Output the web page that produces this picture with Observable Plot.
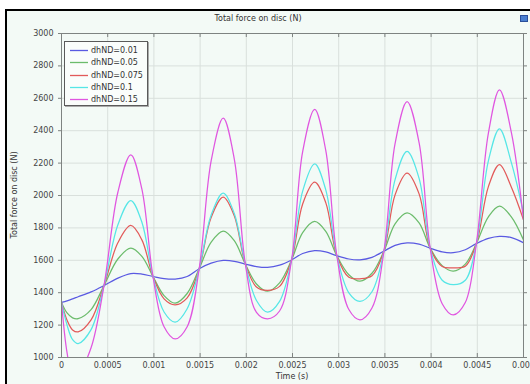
<!DOCTYPE html>
<html>
<head>
<meta charset="utf-8">
<script src="https://cdn.jsdelivr.net/npm/d3@7"></script>
<script src="https://cdn.jsdelivr.net/npm/@observablehq/plot@0.6"></script>
<style>
  html, body { margin: 0; padding: 0; background: #ffffff; overflow: hidden; }
  #wrap { position: relative; width: 530px; height: 384px; font-family: "DejaVu Sans", sans-serif; font-size: 8px; color: #333; }
  #panel { position: absolute; left: 5px; top: 9px; width: 530px; height: 380px; border-left: 2px solid #000; border-top: 2px solid #000; background: #f3faf6; }
  #chart { position: absolute; left: 0; top: 0; }
  .txt { position: absolute; white-space: nowrap; }
  #legend { position: absolute; left: 64px; top: 41px; width: 82px; height: 63px; border: 1px solid #5a5a5a; background: #fafdfb; box-shadow: 1px 1px 0 #aaa; }
  #icon { position: absolute; left: 520px; top: 15px; width: 6px; height: 5px; background: #4a7fd0; border: 1px solid #2a4f9a; }
</style>
</head>
<body>
<div id="wrap">
  <div id="panel"></div>
  <div id="chart"></div>
</div>
<script>
const times = [0, 0.00006, 0.00012, 0.00018, 0.00032, 0.00046, 0.00061, 0.00075, 0.00087, 0.00099, 0.00111, 0.00123, 0.00136, 0.00149, 0.00162, 0.00175, 0.00187, 0.00199, 0.00211, 0.00223, 0.00236, 0.00249, 0.00261, 0.00274, 0.00286, 0.00298, 0.00311, 0.00323, 0.00336, 0.00349, 0.00361, 0.00374, 0.00387, 0.00399, 0.00412, 0.00424, 0.00437, 0.00449, 0.00462, 0.00474, 0.00487, 0.005];
const seriesNames = ["dhND=0.01", "dhND=0.05", "dhND=0.075", "dhND=0.1", "dhND=0.15"];
const seriesColors = ["#5a5ae2", "#6cbc6c", "#e25a5a", "#56e6e6", "#e056e0"];
const force001 = [1340, 1350, 1362, 1375, 1405, 1444, 1490, 1518, 1515, 1500, 1487, 1484, 1500, 1548, 1582, 1599, 1594, 1576, 1561, 1556, 1570, 1602, 1642, 1660, 1652, 1628, 1608, 1603, 1618, 1657, 1692, 1708, 1700, 1675, 1652, 1647, 1665, 1703, 1735, 1748, 1740, 1708];
const force005 = [1340, 1275, 1245, 1240, 1296, 1444, 1608, 1675, 1624, 1500, 1382, 1335, 1395, 1548, 1712, 1780, 1721, 1576, 1454, 1409, 1461, 1602, 1771, 1840, 1779, 1628, 1511, 1471, 1520, 1657, 1825, 1893, 1831, 1675, 1567, 1533, 1576, 1703, 1868, 1934, 1867, 1725];
const force0075 = [1340, 1230, 1170, 1158, 1232, 1444, 1708, 1815, 1726, 1500, 1362, 1325, 1368, 1548, 1865, 1990, 1875, 1576, 1435, 1414, 1439, 1602, 1948, 2082, 1956, 1628, 1495, 1486, 1504, 1657, 2004, 2138, 2010, 1675, 1562, 1554, 1563, 1703, 2055, 2191, 2050, 1850];
const force01 = [1340, 1200, 1110, 1086, 1172, 1444, 1819, 1969, 1835, 1500, 1281, 1218, 1301, 1548, 1880, 2014, 1889, 1576, 1352, 1280, 1346, 1602, 2027, 2195, 2035, 1628, 1399, 1346, 1406, 1657, 2098, 2272, 2106, 1675, 1477, 1450, 1477, 1703, 2214, 2412, 2200, 1890];
const force015 = [1340, 1030, 885, 900, 1060, 1444, 2020, 2251, 2039, 1500, 1190, 1115, 1190, 1548, 2215, 2477, 2225, 1576, 1279, 1239, 1287, 1602, 2271, 2531, 2278, 1628, 1296, 1233, 1306, 1657, 2320, 2580, 2326, 1675, 1332, 1263, 1339, 1703, 2385, 2652, 2385, 1850];
const xTicks = [0, 0.0005, 0.001, 0.0015, 0.002, 0.0025, 0.003, 0.0035, 0.004, 0.0045, 0.005];
const xTickLabels = ["0", "0.0005", "0.001", "0.0015", "0.002", "0.0025", "0.003", "0.0035", "0.004", "0.0045", "0.005"];
const yTicks = [1000, 1200, 1400, 1600, 1800, 2000, 2200, 2400, 2600, 2800, 3000];
const titleText = "Total force on disc (N)";
const xLabel = "Time (s)";
const yLabel = "Total force on disc (N)";

const allSeries = [force001, force005, force0075, force01, force015];
const data = [];
allSeries.forEach((vals, k) => vals.forEach((v, i) => data.push({t: times[i], v, s: seriesNames[k]})));

const gridColor = "#d9e0dc";
const axisColor = "#7e8381";

const chart = Plot.plot({
  width: 530, height: 384,
  marginLeft: 61, marginRight: 7, marginTop: 33, marginBottom: 27,
  style: {background: "transparent", fontFamily: "DejaVu Sans", fontSize: "8px", color: "#444"},
  x: {domain: [0, 0.005]},
  y: {domain: [1000, 3000]},
  color: {domain: seriesNames, range: seriesColors},
  marks: [
    Plot.gridX(xTicks, {stroke: gridColor, strokeOpacity: 1}),
    Plot.gridY(yTicks, {stroke: gridColor, strokeOpacity: 1}),
    Plot.line(data, {x: "t", y: "v", z: "s", stroke: "s", strokeWidth: 1.25, curve: "catmull-rom", clip: true}),
    Plot.frame({stroke: axisColor, strokeWidth: 1}),
    Plot.ruleX(xTicks, {y1: 1000, y2: 1000, insetBottom: 4, stroke: axisColor}),
    Plot.ruleX(xTicks, {y1: 3000, y2: 3000, insetTop: 4, stroke: axisColor}),
    Plot.ruleY(yTicks, {x1: 0.005, x2: 0.005, insetRight: -4, stroke: axisColor}),
    Plot.axisX(xTicks, {tickSize: 0, tickPadding: 5, tickFormat: (d, i) => xTickLabels[i], fill: "#444", label: null}),
    Plot.axisY(yTicks, {tickSize: 3, tickPadding: 5, tickFormat: d => String(d), stroke: axisColor, fill: "#444", label: null})
  ]
});
document.getElementById("chart").appendChild(chart);

const wrap = document.getElementById("wrap");
function addText(str, css) {
  const d = document.createElement("div");
  d.className = "txt";
  d.textContent = str;
  Object.assign(d.style, css);
  wrap.appendChild(d);
  return d;
}
addText(titleText, {left: "258px", top: "14px", transform: "translateX(-50%)"});
addText(xLabel, {left: "292px", top: "372px", transform: "translateX(-50%)"});
addText(yLabel, {left: "14px", top: "195px", transform: "translate(-50%,-50%) rotate(-90deg)"});

const icon = document.createElement("div");
icon.id = "icon";
wrap.appendChild(icon);

// legend as an inline SVG
const legend = document.createElement("div");
legend.id = "legend";
const ns = "http://www.w3.org/2000/svg";
const lsvg = document.createElementNS(ns, "svg");
lsvg.setAttribute("width", "82");
lsvg.setAttribute("height", "63");
lsvg.style.display = "block";
seriesNames.forEach((name, k) => {
  const cy = 8 + Math.round(k * 12.25) + 0.5;
  const ln = document.createElementNS(ns, "line");
  ln.setAttribute("x1", "5");
  ln.setAttribute("x2", "23");
  ln.setAttribute("y1", cy);
  ln.setAttribute("y2", cy);
  ln.setAttribute("stroke", seriesColors[k]);
  ln.setAttribute("stroke-width", "1.3");
  lsvg.appendChild(ln);
  const tx = document.createElementNS(ns, "text");
  tx.setAttribute("x", "26");
  tx.setAttribute("y", cy);
  tx.setAttribute("dy", "0.32em");
  tx.setAttribute("font-family", "DejaVu Sans");
  tx.setAttribute("font-size", "8");
  tx.setAttribute("fill", "#333");
  tx.textContent = name;
  lsvg.appendChild(tx);
});
legend.appendChild(lsvg);
wrap.appendChild(legend);
</script>
</body>
</html>
